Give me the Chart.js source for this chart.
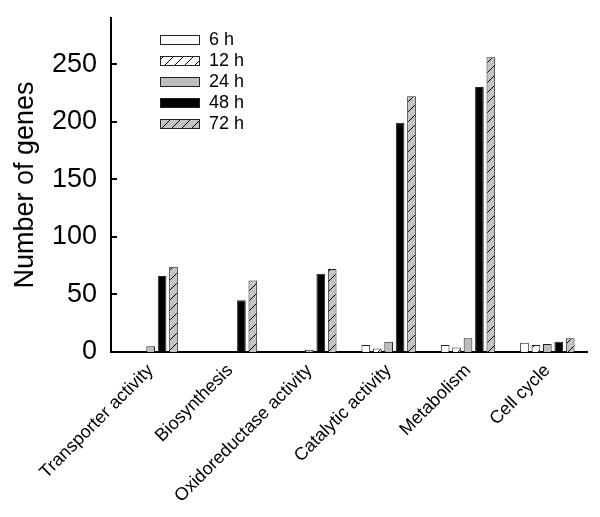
<!DOCTYPE html>
<html>
<head>
<meta charset="utf-8">
<script src="https://cdn.jsdelivr.net/npm/chart.js@4.4.1/dist/chart.umd.min.js"></script>
<style>
  body { margin: 0; background: #fff; }
  #wrap { width: 600px; height: 517px; }
</style>
</head>
<body>
<div id="wrap"><canvas id="genesChart" width="600" height="517"></canvas></div>
<script>
// categorias y valores
const categories = ['Transporter activity', 'Biosynthesis', 'Oxidoreductase activity', 'Catalytic activity', 'Metabolism', 'Cell cycle'];
const seriesLabels = ['6 h', '12 h', '24 h', '48 h', '72 h'];
const h6 = [0, 0, 0, 6, 6, 8];
const h12 = [0, 0, 0, 3, 4, 6];
const h24 = [5, 0, 2, 9, 12, 7];
const h48 = [66, 45, 68, 199, 230, 9];
const h72 = [74, 62, 72, 222, 256, 12];
const yTicks = [0, 50, 100, 150, 200, 250];

const FONT = '"Liberation Sans", Arial, Helvetica, sans-serif';

// patron rayado "/"
function hatch(bg) {
    const c = document.createElement('canvas');
    c.width = 10; c.height = 10;
    const g = c.getContext('2d');
    g.fillStyle = bg;
    g.fillRect(0, 0, 10, 10);
    g.strokeStyle = '#000';
    g.lineWidth = 1;
    g.beginPath();
    g.moveTo(0, 10); g.lineTo(10, 0);
    g.moveTo(-1, 1); g.lineTo(1, -1);
    g.moveTo(9, 11); g.lineTo(11, 9);
    g.stroke();
    return g.createPattern(c, 'repeat');
}

const fills = ['#ffffff', hatch('#ffffff'), '#bdbdbd', '#000000', hatch('#c4c4c4')];
const allData = [h6, h12, h24, h48, h72];

const datasets = allData.map((d, i) => ({
    label: seriesLabels[i],
    data: d,
    backgroundColor: fills[i],
    borderColor: '#222',
    borderWidth: 1,
    barPercentage: 0.76,
    categoryPercentage: 0.72
}));

// leyenda vertical y marcas del eje hacia dentro
const extras = {
    id: 'extras',
    afterDraw(chart) {
        const ctx = chart.ctx;
        const area = chart.chartArea;
        const y = chart.scales.y;
        ctx.save();
        ctx.strokeStyle = '#000';
        ctx.lineWidth = 2;
        yTicks.forEach(t => {
            const py = Math.round(y.getPixelForValue(t));
            ctx.beginPath();
            ctx.moveTo(area.left, py);
            ctx.lineTo(area.left + 6, py);
            ctx.stroke();
        });
        ctx.font = '18px ' + FONT;
        ctx.textBaseline = 'middle';
        chart.data.datasets.forEach((ds, i) => {
            const top = 35 + i * 21;
            ctx.fillStyle = ds.backgroundColor;
            ctx.fillRect(160, top, 40, 10);
            ctx.strokeStyle = '#222';
            ctx.lineWidth = 1;
            ctx.strokeRect(160.5, top + 0.5, 39, 9);
            ctx.fillStyle = '#000';
            ctx.fillText(ds.label, 209, top + 5.5);
        });
        ctx.restore();
    }
};

new Chart(document.getElementById('genesChart'), {
    type: 'bar',
    data: { labels: categories, datasets },
    plugins: [extras],
    options: {
        responsive: false,
        animation: false,
        layout: { padding: { left: 0, top: 18, right: 13, bottom: 0 } },
        plugins: { legend: { display: false }, tooltip: { enabled: false } },
        scales: {
            x: {
                grid: { display: false, drawTicks: false },
                border: { display: true, color: '#000', width: 2 },
                ticks: {
                    color: '#000',
                    font: { family: FONT, size: 18 },
                    maxRotation: 45,
                    minRotation: 45,
                    padding: 8,
                    autoSkip: false
                },
                afterFit(scale) {
                    scale.height = 517 - 352;
                    scale.paddingLeft = 0;
                    scale.paddingRight = 0;
                }
            },
            y: {
                min: 0,
                max: 290,
                grid: { display: false, drawTicks: false },
                border: { display: true, color: '#000', width: 2 },
                afterBuildTicks(scale) { scale.ticks = yTicks.map(v => ({ value: v })); },
                ticks: {
                    color: '#000',
                    font: { family: FONT, size: 27 },
                    padding: 14,
                    includeBounds: false
                },
                title: {
                    display: true,
                    text: 'Number of genes',
                    color: '#000',
                    font: { family: FONT, size: 27 },
                    padding: { top: 9, bottom: 0 }
                },
                afterFit(scale) {
                    scale.width = 111;
                    scale.paddingTop = 0;
                    scale.paddingBottom = 0;
                }
            }
        }
    }
});
</script>
</body>
</html>
